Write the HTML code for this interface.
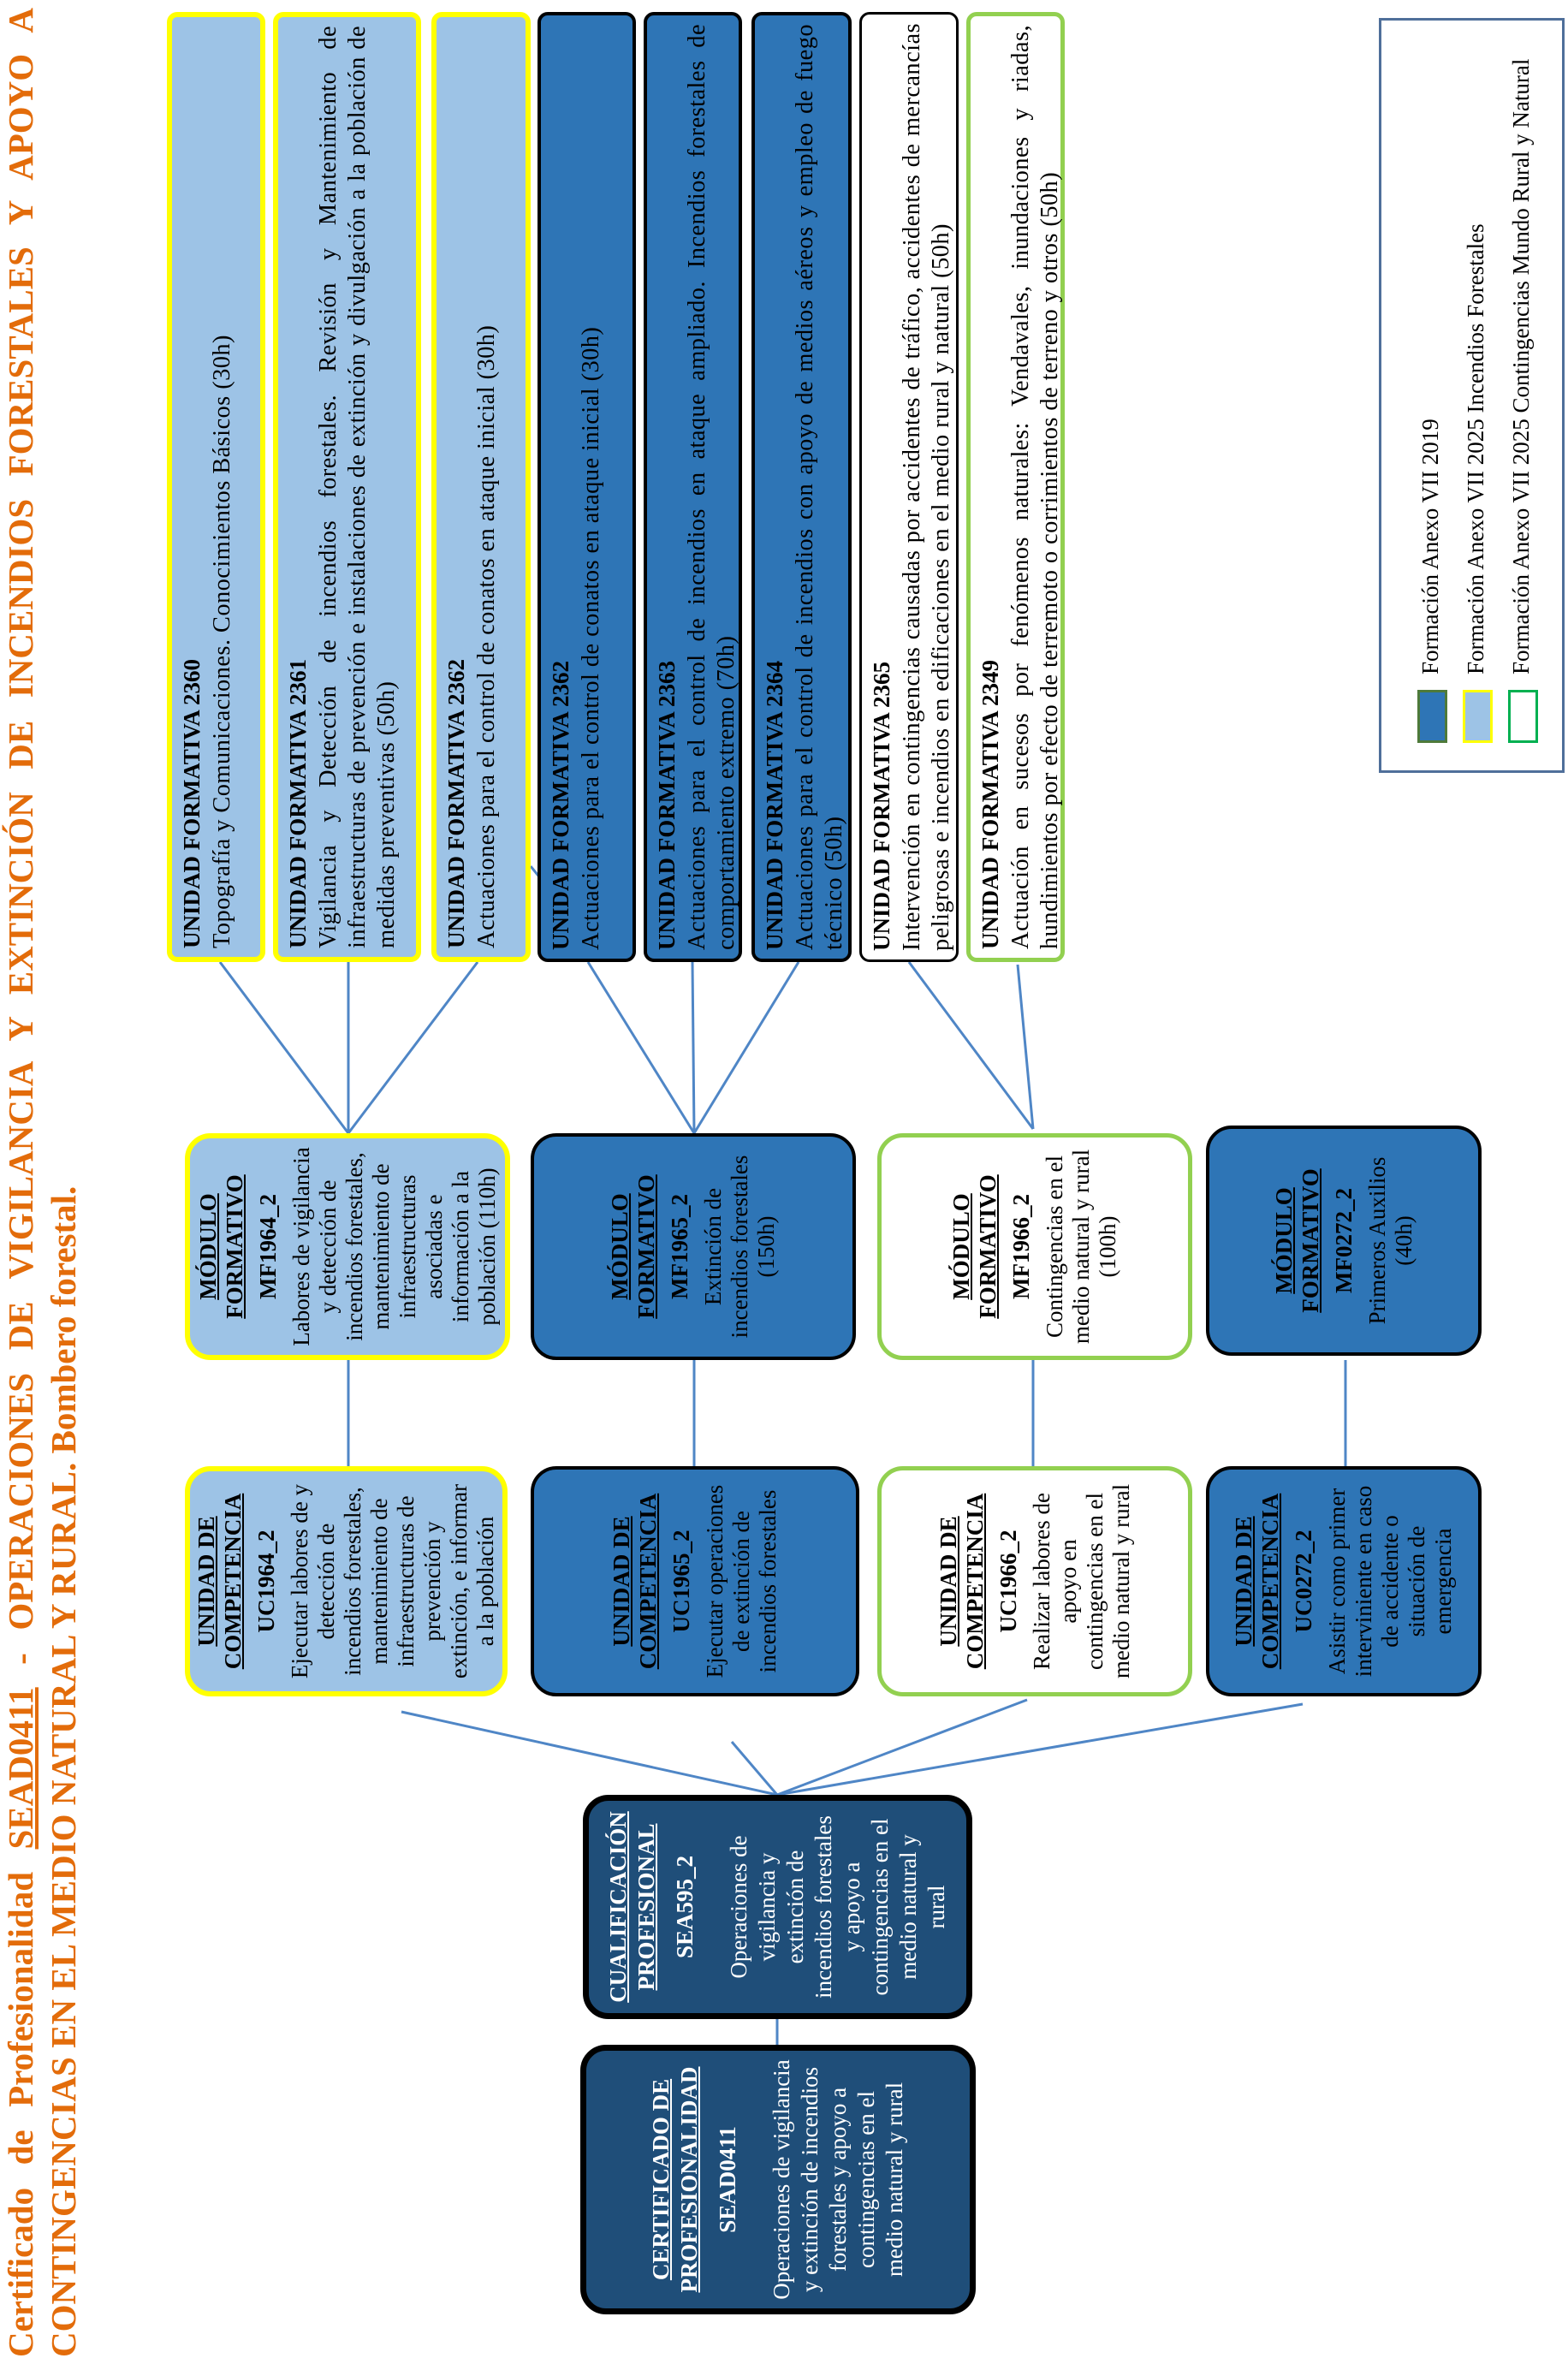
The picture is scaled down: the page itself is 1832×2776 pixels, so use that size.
<!DOCTYPE html>
<html><head><meta charset="utf-8"><style>
html,body{margin:0;padding:0;background:#fff;}
body{width:1832px;height:2776px;position:relative;overflow:hidden;font-family:"Liberation Serif",serif;}
#r{position:absolute;left:0;top:2776px;width:2776px;height:1832px;transform-origin:0 0;transform:rotate(-90deg);}
.b{position:absolute;box-sizing:border-box;}
.uf{border-radius:12px;padding:4px 10px;font-size:28.5px;line-height:34px;text-align:justify;color:#000;letter-spacing:0.4px;}
.uf b{display:block;font-size:27px;line-height:38px;letter-spacing:0;}
.lb{background:#9DC3E6;border:6px solid #FFFF00;}
.db{background:#2E75B6;border:4px solid #000;}
.wk{background:#fff;border:3px solid #000;}
.wg{background:#fff;border:5px solid #92D050;}
.m{border-radius:30px;display:flex;flex-direction:column;justify-content:center;align-items:center;text-align:center;font-size:27px;line-height:31px;padding:6px 8px;}
.m u{font-weight:bold;display:block;}
.m .c{font-weight:bold;margin:8px 0;display:block;}
.n{background:#1F4E79;border:7px solid #000;border-radius:30px;color:#fff;display:flex;flex-direction:column;justify-content:center;align-items:center;text-align:center;font-family:"Liberation Sans Narrow","Liberation Serif",serif;font-size:27px;line-height:33px;padding:0 10px;}
.n u{font-weight:bold;display:block;}
.n .c{font-weight:bold;display:block;margin:12px 0 30px;}
</style></head><body>
<svg width="1832" height="2776" style="position:absolute;left:0;top:0" stroke="#4F86C6" stroke-width="3" fill="none">
<line x1="257" y1="1124" x2="407" y2="1324"/><line x1="407" y1="1124" x2="407" y2="1324"/><line x1="558" y1="1124" x2="407" y2="1324"/>
<line x1="620" y1="1012" x2="632" y2="1027"/>
<line x1="687" y1="1124" x2="811" y2="1324"/><line x1="809" y1="1124" x2="811" y2="1324"/><line x1="933" y1="1124" x2="811" y2="1324"/>
<line x1="1030" y1="1019" x2="1022" y2="1034"/>
<line x1="1062" y1="1124" x2="1207" y2="1319"/><line x1="1189" y1="1127" x2="1207" y2="1319"/>
<line x1="407" y1="1589" x2="407" y2="1713"/><line x1="811" y1="1589" x2="811" y2="1713"/><line x1="1207" y1="1589" x2="1207" y2="1713"/><line x1="1572" y1="1589" x2="1572" y2="1713"/>
<line x1="469" y1="2000" x2="908" y2="2097"/><line x1="855" y1="2035" x2="908" y2="2097"/><line x1="1200" y1="1986" x2="908" y2="2097"/><line x1="1522" y1="1991" x2="908" y2="2097"/>
<line x1="908" y1="2359" x2="908" y2="2389"/>
</svg>
<div id="r">
<div class="b" style="left:22px;top:0px;width:2745px;font-weight:bold;color:#E36C0A;font-size:41px;line-height:48px;text-align:justify;text-align-last:justify;">Certificado de Profesionalidad <u>SEAD0411</u> - OPERACIONES DE VIGILANCIA Y EXTINCIÓN DE INCENDIOS FORESTALES Y APOYO A</div>
<div class="b" style="left:22px;top:50px;width:2745px;font-weight:bold;color:#E36C0A;font-size:41px;line-height:48px;">CONTINGENCIAS EN EL MEDIO NATURAL Y RURAL. Bombero forestal.</div>

<div class="b uf lb" style="left:1652px;top:195px;width:1110px;height:115px;"><b>UNIDAD FORMATIVA 2360</b>Topografía y Comunicaciones. Conocimientos Básicos (30h)</div>
<div class="b uf lb" style="left:1652px;top:319px;width:1110px;height:173px;"><b>UNIDAD FORMATIVA 2361</b>Vigilancia y Detección de incendios forestales. Revisión y Mantenimiento de infraestructuras de prevención e instalaciones de extinción y divulgación a la población de medidas preventivas (50h)</div>
<div class="b uf lb" style="left:1652px;top:504px;width:1110px;height:116px;"><b>UNIDAD FORMATIVA 2362</b>Actuaciones para el control de conatos en ataque inicial (30h)</div>
<div class="b uf db" style="left:1652px;top:628px;width:1110px;height:115px;"><b>UNIDAD FORMATIVA 2362</b>Actuaciones para el control de conatos en ataque inicial (30h)</div>
<div class="b uf db" style="left:1652px;top:752px;width:1110px;height:115px;"><b>UNIDAD FORMATIVA 2363</b>Actuaciones para el control de incendios en ataque ampliado. Incendios forestales de comportamiento extremo (70h)</div>
<div class="b uf db" style="left:1652px;top:878px;width:1110px;height:117px;"><b>UNIDAD FORMATIVA 2364</b>Actuaciones para el control de incendios con apoyo de medios aéreos y empleo de fuego técnico (50h)</div>
<div class="b uf wk" style="left:1652px;top:1004px;width:1110px;height:116px;"><b>UNIDAD FORMATIVA 2365</b>Intervención en contingencias causadas por accidentes de tráfico, accidentes de mercancías peligrosas e incendios en edificaciones en el medio rural y natural (50h)</div>
<div class="b uf wg" style="left:1652px;top:1129px;width:1110px;height:115px;"><b>UNIDAD FORMATIVA 2349</b>Actuación en sucesos por fenómenos naturales: Vendavales, inundaciones y riadas, hundimientos por efecto de terremoto o corrimientos de terreno y otros (50h)</div>

<div class="b" style="left:1873px;top:1611px;width:882px;height:217px;border:3px solid #4F6F9A;font-family:'Liberation Sans Narrow','Liberation Serif',serif;font-size:27px;">
<div class="b" style="left:32px;top:42px;width:62px;height:35px;background:#2E75B6;border:3px solid #4E7A3A;"></div>
<div class="b" style="left:32px;top:95px;width:62px;height:35px;background:#9DC3E6;border:3px solid #FFFF00;"></div>
<div class="b" style="left:32px;top:148px;width:62px;height:35px;background:#fff;border:3px solid #00B050;"></div>
<div class="b" style="left:112px;top:42px;">Formación Anexo VII 2019</div>
<div class="b" style="left:112px;top:95px;">Formación Anexo VII 2025 Incendios Forestales</div>
<div class="b" style="left:112px;top:148px;">Formación Anexo VII 2025 Contingencias Mundo Rural y Natural</div>
</div>

<div class="b m lb" style="left:1187px;top:216px;width:265px;height:380px;"><u>MÓDULO<br>FORMATIVO</u><span class="c">MF1964_2</span>Labores de vigilancia y detección de incendios forestales, mantenimiento de infraestructuras asociadas e información a la población (110h)</div>
<div class="b m db" style="left:1187px;top:620px;width:265px;height:380px;"><u>MÓDULO<br>FORMATIVO</u><span class="c">MF1965_2</span>Extinción de incendios forestales<br>(150h)</div>
<div class="b m wg" style="left:1187px;top:1025px;width:265px;height:368px;"><u>MÓDULO<br>FORMATIVO</u><span class="c">MF1966_2</span>Contingencias en el medio natural y rural<br>(100h)</div>
<div class="b m db" style="left:1192px;top:1409px;width:269px;height:322px;"><u>MÓDULO<br>FORMATIVO</u><span class="c">MF0272_2</span>Primeros Auxilios<br>(40h)</div>

<div class="b m lb" style="left:794px;top:216px;width:269px;height:377px;"><u>UNIDAD DE<br>COMPETENCIA</u><span class="c">UC1964_2</span>Ejecutar labores de y detección de incendios forestales, mantenimiento de infraestructuras de prevención y extinción, e informar a la población</div>
<div class="b m db" style="left:794px;top:620px;width:269px;height:384px;"><u>UNIDAD DE<br>COMPETENCIA</u><span class="c">UC1965_2</span>Ejecutar operaciones de extinción de incendios forestales</div>
<div class="b m wg" style="left:794px;top:1025px;width:269px;height:368px;"><u>UNIDAD DE<br>COMPETENCIA</u><span class="c">UC1966_2</span>Realizar labores de apoyo en contingencias en el medio natural y rural</div>
<div class="b m db" style="left:794px;top:1409px;width:269px;height:322px;"><u>UNIDAD DE<br>COMPETENCIA</u><span class="c">UC0272_2</span>Asistir como primer interviniente en caso de accidente o situación de emergencia</div>

<div class="b n" style="left:417px;top:681px;width:262px;height:455px;padding:0 12px;"><u>CUALIFICACIÓN<br>PROFESIONAL</u><span class="c">SEA595_2</span>Operaciones de vigilancia y extinción de incendios forestales y apoyo a contingencias en el medio natural y rural</div>
<div class="b n" style="left:72px;top:678px;width:315px;height:462px;"><u>CERTIFICADO DE<br>PROFESIONALIDAD</u><span class="c">SEAD0411</span>Operaciones de vigilancia y extinción de incendios forestales y apoyo a contingencias en el medio natural y rural</div>
</div>
</body></html>
